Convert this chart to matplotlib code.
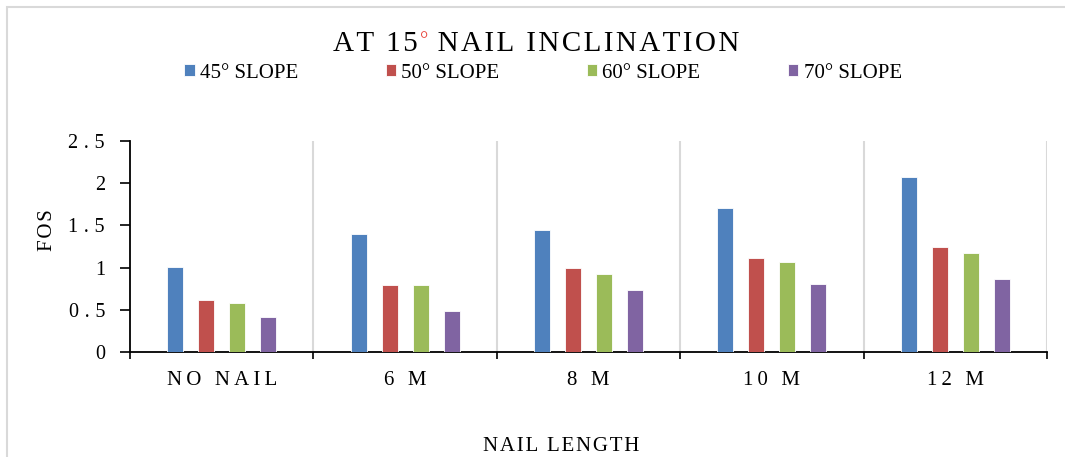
import matplotlib
matplotlib.use("Agg")
import matplotlib.pyplot as plt
import numpy as np
from matplotlib.patches import Rectangle

# FOS values for each nail length, one list per slope angle
lengths = ["NO NAIL", "6 M", "8 M", "10 M", "12 M"]
slopes = ["45° SLOPE", "50° SLOPE", "60° SLOPE", "70° SLOPE"]
fos_45 = [1.01, 1.40, 1.44, 1.71, 2.07]
fos_50 = [0.62, 0.79, 1.00, 1.11, 1.24]
fos_60 = [0.58, 0.79, 0.92, 1.07, 1.17]
fos_70 = [0.42, 0.48, 0.73, 0.80, 0.86]
yticks = [0, 0.5, 1, 1.5, 2, 2.5]
ytick_labels = ["0", "0.5", "1", "1.5", "2", "2.5"]

colors = ["#4F81BD", "#C0504D", "#9BBB59", "#8064A2"]

THIN = "\u2009"
HAIR = "\u200a"


def spaced(s, sep):
    # widen character spacing of a label
    return sep.join(s)


plt.rcParams['font.family'] = ['Liberation Serif', 'DejaVu Serif']

W, H = 1065, 457
fig = plt.figure(figsize=(W / 100, H / 100), dpi=100)

# light frame around the chart area
fig.patches.append(Rectangle((7 / W, -0.1), 1.2, 1 - 7 / H + 0.1,
                             transform=fig.transFigure, fill=False,
                             edgecolor="#d9d9d9", linewidth=1.5))

ax = fig.add_axes([130 / W, 1 - 352 / H, (1047 - 130) / W, (352 - 141) / H])

x = np.arange(len(lengths)) + 0.5
step = 0.169
width = 0.088
series = [fos_45, fos_50, fos_60, fos_70]
for i, (vals, name, c) in enumerate(zip(series, slopes, colors)):
    ax.bar(x + (i - 1.5) * step, vals, width, color=c, label=name,
           edgecolor="white", linewidth=0.6, zorder=3)

ax.set_xlim(0, len(lengths))
ax.set_ylim(0, 2.5)

# category separators
for b in range(1, len(lengths) + 1):
    ax.axvline(b, color="#d9d9d9", linewidth=1.5, zorder=1)

ax.set_xticks(x)
ax.set_xticklabels([spaced(s, THIN) for s in lengths], fontsize=15)
ax.set_xticks(np.arange(len(lengths) + 1), minor=True)
ax.tick_params(axis="x", which="major", length=0, pad=14)
ax.tick_params(axis="x", which="minor", length=5, width=1.2, direction="out")

ax.set_yticks(yticks)
ax.set_yticklabels([spaced(s, THIN + HAIR) for s in ytick_labels], fontsize=14.5)
ax.tick_params(axis="y", length=7, width=1.2, direction="out", pad=11)

for s in ["top", "right"]:
    ax.spines[s].set_visible(False)
ax.spines["left"].set_linewidth(1.3)
ax.spines["bottom"].set_linewidth(1.3)

ax.set_ylabel(spaced("FOS", HAIR), fontsize=15)
ax.yaxis.set_label_coords((57 - 130) / 917, (352 - 230) / 211)
ax.set_xlabel(spaced("NAIL LENGTH", HAIR), fontsize=15)
ax.xaxis.set_label_coords((561 - 130) / 917, (352 - 437) / 211)

ax.legend(loc="center", bbox_to_anchor=(543 / W, 1 - 73 / H),
          bbox_transform=fig.transFigure, ncol=4, frameon=False,
          fontsize=15, handlelength=0.5, handleheight=0.5,
          handletextpad=0.25, columnspacing=4.2)

# title with a red degree sign
fig.canvas.draw()
r = fig.canvas.get_renderer()
ty = 1 - 44 / H
t1 = fig.text(333 / W, ty, spaced("AT 15", HAIR), fontsize=21, va="center", ha="left")
e1 = t1.get_window_extent(r)
t2 = fig.text(e1.x1 / W + 0.002, ty + 0.005, "°", fontsize=15, color="#e8453c",
              va="center", ha="left")
e2 = t2.get_window_extent(r)
fig.text(e2.x1 / W, ty, spaced(" NAIL INCLINATION", HAIR), fontsize=21,
         va="center", ha="left")

fig.savefig("out.png", dpi=100)
